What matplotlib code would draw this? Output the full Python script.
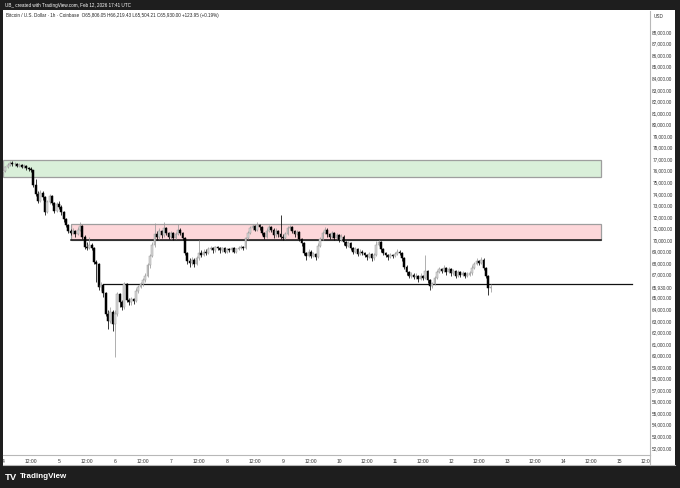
import matplotlib
matplotlib.use("Agg")
import matplotlib.pyplot as plt
from matplotlib.patches import Rectangle
from matplotlib.lines import Line2D
from matplotlib.transforms import Bbox, TransformedBbox

# ---------------- data (prices in thousands USD, hourly candles from Feb 4 00:00) ----------------
first_open = 75.90
closes = [
    75.95, 76.30, 76.50, 76.70, 76.55, 76.60, 76.45, 76.50, 76.35, 76.40,
    76.20, 76.15, 76.05, 74.80, 74.00, 73.40, 74.10, 73.70, 72.40, 73.30,
    73.80, 73.20, 72.50, 73.10, 72.90, 72.40, 71.80, 71.30, 70.80, 70.60,
    70.80, 70.50, 70.90, 71.20, 70.30, 69.40, 69.30, 69.60, 69.30, 68.10,
    67.90, 65.90, 66.10, 65.40, 63.60, 63.00, 63.80, 62.70, 63.60, 65.30,
    64.60, 64.20, 66.20, 64.80, 64.60, 64.90, 64.70, 65.60, 65.90, 66.20,
    66.50, 66.90, 67.80, 68.60, 69.60, 70.50, 70.30, 70.80, 70.40, 71.00,
    70.60, 70.30, 70.60, 70.20, 70.50, 70.90, 70.60, 70.20, 68.90, 68.20,
    68.00, 68.30, 67.90, 68.40, 68.90, 68.70, 69.00, 68.90, 69.20, 69.30,
    69.10, 69.40, 69.30, 69.10, 69.30, 69.00, 69.20, 69.10, 69.30, 69.00,
    69.20, 69.30, 69.40, 69.30, 70.20, 70.60, 71.00, 71.20, 70.90, 71.30,
    71.10, 70.60, 70.30, 70.80, 71.10, 70.90, 70.40, 70.80, 70.50, 70.30,
    70.20, 70.50, 71.00, 71.10, 70.80, 70.50, 70.70, 70.10, 69.70, 68.90,
    68.60, 69.00, 68.60, 68.80, 68.50, 69.50, 70.10, 70.60, 70.90, 70.50,
    70.30, 70.60, 70.20, 70.40, 70.00, 70.30, 69.80, 69.50, 69.70, 69.30,
    69.00, 69.20, 68.80, 69.00, 68.90, 68.70, 68.50, 68.80, 68.40, 68.70,
    69.60, 69.80, 69.20, 68.90, 68.70, 68.50, 68.70, 68.60, 68.80, 69.00,
    68.90, 68.40, 67.70, 67.20, 66.90, 67.00, 66.80, 66.90, 66.60, 66.90,
    66.70, 67.30, 66.50, 66.00, 66.20, 66.70, 67.20, 67.50, 67.30, 67.60,
    67.20, 67.50, 67.10, 67.30, 66.90, 67.20, 67.00, 67.10, 66.90, 67.00,
    67.10, 67.60, 67.90, 68.20, 68.00, 68.30, 67.60, 66.90, 65.806, 65.93,
]
highs = [
    76.15, 76.45, 76.70, 76.85, 76.80, 76.75, 76.70, 76.65, 76.60, 76.55,
    76.50, 76.35, 76.30, 76.10, 75.30, 74.20, 74.30, 74.20, 73.80, 73.50,
    74.00, 73.90, 73.30, 73.30, 73.40, 73.00, 72.50, 71.90, 71.40, 70.95,
    71.00, 70.90, 71.10, 71.55, 71.30, 70.40, 69.80, 70.30, 69.70, 69.40,
    68.30, 68.00, 66.40, 66.20, 65.50, 63.90, 64.20, 63.90, 63.90, 65.50,
    65.40, 64.80, 66.40, 66.30, 65.00, 65.10, 65.00, 65.80, 66.10, 66.40,
    66.70, 67.10, 68.00, 68.80, 69.80, 71.50, 70.80, 71.00, 70.90, 71.60,
    71.10, 70.70, 70.80, 70.70, 70.70, 71.40, 71.00, 70.70, 70.30, 69.00,
    68.40, 68.50, 68.40, 68.60, 70.00, 69.10, 69.20, 69.20, 69.40, 69.50,
    69.40, 69.50, 69.50, 69.40, 69.40, 69.40, 69.30, 69.30, 69.40, 69.40,
    69.30, 69.45, 69.55, 69.50, 70.30, 70.80, 71.20, 71.40, 71.30, 71.55,
    71.40, 71.20, 70.70, 71.00, 71.30, 71.20, 71.00, 71.00, 70.90, 72.20,
    70.50, 70.70, 71.20, 71.30, 71.20, 70.90, 70.90, 70.80, 70.20, 69.80,
    69.00, 69.20, 69.10, 69.00, 68.90, 69.70, 70.30, 70.80, 71.10, 71.00,
    70.60, 70.80, 70.70, 70.60, 70.50, 70.50, 70.40, 69.90, 69.90, 69.80,
    69.40, 69.40, 69.30, 69.20, 69.10, 69.00, 68.80, 69.00, 68.90, 68.90,
    69.90, 70.00, 69.90, 69.30, 69.00, 68.80, 68.90, 68.80, 69.00, 69.20,
    69.10, 69.00, 68.50, 67.80, 67.30, 67.20, 67.10, 67.10, 67.00, 67.10,
    67.00, 68.70, 67.40, 66.60, 66.40, 66.90, 67.40, 67.70, 67.60, 67.80,
    67.70, 67.70, 67.60, 67.50, 67.40, 67.40, 67.30, 67.30, 67.20, 67.20,
    67.30, 67.80, 68.10, 68.40, 68.30, 68.50, 68.40, 67.70, 67.00, 66.219,
]
lows = [
    75.70, 75.85, 76.20, 76.40, 76.40, 76.40, 76.30, 76.30, 76.20, 76.20,
    76.05, 75.95, 75.90, 74.60, 73.80, 73.20, 73.30, 73.50, 72.20, 72.30,
    73.10, 73.00, 72.30, 72.40, 72.70, 72.20, 71.60, 71.10, 70.60, 70.40,
    70.50, 70.30, 70.40, 70.80, 70.10, 69.20, 69.10, 69.20, 69.10, 67.90,
    66.40, 65.70, 65.60, 65.10, 63.40, 62.30, 62.80, 62.10, 59.90, 63.40,
    64.20, 63.90, 64.00, 64.60, 64.40, 64.40, 64.50, 64.60, 65.40, 65.80,
    66.00, 66.40, 66.80, 67.60, 68.50, 69.40, 70.00, 70.10, 70.20, 70.30,
    70.40, 70.10, 70.10, 70.00, 70.10, 70.40, 70.40, 70.00, 68.70, 67.90,
    67.70, 67.80, 67.70, 67.80, 68.30, 68.50, 68.60, 68.70, 68.80, 69.10,
    68.90, 69.00, 69.10, 68.90, 69.00, 68.90, 68.90, 68.95, 69.00, 68.90,
    68.90, 69.10, 69.20, 69.15, 69.20, 70.10, 70.50, 70.90, 70.80, 70.80,
    70.90, 70.40, 70.10, 70.20, 70.70, 70.70, 70.20, 70.30, 70.30, 70.10,
    70.00, 70.10, 70.40, 70.90, 70.60, 70.30, 70.40, 69.90, 69.50, 68.70,
    68.30, 68.50, 68.40, 68.50, 68.30, 68.40, 69.40, 70.00, 70.50, 70.30,
    70.10, 70.20, 70.00, 70.10, 69.80, 69.90, 69.60, 69.30, 69.40, 69.10,
    68.80, 68.90, 68.60, 68.70, 68.70, 68.50, 68.30, 68.40, 68.20, 68.30,
    68.60, 69.50, 69.00, 68.70, 68.50, 68.30, 68.40, 68.40, 68.50, 68.70,
    68.70, 68.20, 67.50, 67.00, 66.70, 66.70, 66.60, 66.60, 66.40, 66.50,
    66.50, 66.60, 66.30, 65.70, 65.80, 66.10, 66.60, 67.10, 67.10, 67.20,
    67.00, 67.10, 66.90, 67.00, 66.70, 66.80, 66.80, 66.90, 66.70, 66.80,
    66.90, 67.00, 67.50, 67.80, 67.80, 67.90, 67.40, 66.70, 65.20, 65.504,
]

green_zone = (75.48, 76.93)     # low, high (k USD)
red_zone = (70.00, 71.38)
support_level = 66.15
last_price = 65.93

day_labels = ["4", "5", "6", "7", "8", "9", "10", "11", "12", "13", "14", "15"]
price_ticks = [52, 53, 54, 55, 56, 57, 58, 59, 60, 61, 62, 63, 64, 65, 67, 68, 69,
               70, 71, 72, 73, 74, 75, 76, 77, 78, 79, 80, 81, 82, 83, 84, 85, 86, 87, 88]

header = "UB_ created with TradingView.com, Feb 12, 2026 17:41 UTC"
legend_text = ("Bitcoin / U.S. Dollar \u00b7 1h \u00b7 Coinbase  O65,806.05 H66,219.43 "
               "L65,504.21 C65,930.00 +123.95 (+0.19%)")

FONT = ["Liberation Sans", "DejaVu Sans"]
plt.rcParams["font.family"] = FONT

# ---------------- figure ----------------
W, H = 680, 488
fig = plt.figure(figsize=(W / 100, H / 100), dpi=100)
fig.patch.set_facecolor("#1e1e1e")

def fx(px):
    return px / W

def fy(py):
    return 1 - py / H

# white chart panel (behind the axes)
fig.patches.append(Rectangle((fx(3), fy(465)), fx(672), (465 - 10) / H,
                             transform=fig.transFigure, facecolor="white",
                             edgecolor="none", zorder=-5))

ax = fig.add_axes([fx(3), fy(455), fx(647), (455 - 11) / H])
ax.set_zorder(2)
ax.set_facecolor("white")
ax.set_xlim(0, 277.3)
ax.set_ylim(51.381, 89.83)

for s in ["top", "left"]:
    ax.spines[s].set_visible(False)
for s in ["right", "bottom"]:
    ax.spines[s].set_color("#b8b8b8")
    ax.spines[s].set_linewidth(0.8)

# zones
gz = Rectangle((0, green_zone[0]), 256.3, green_zone[1] - green_zone[0],
               facecolor="#d9efd9", edgecolor="#9e9e9e", linewidth=0.9, zorder=1)
ax.add_patch(gz)
rz = Rectangle((29.1, red_zone[0]), 256.3 - 29.1, red_zone[1] - red_zone[0],
               facecolor="#fdd7da", edgecolor="#9e9e9e", linewidth=0.9, zorder=1)
ax.add_patch(rz)
ax.plot([29.1, 256.3], [red_zone[0], red_zone[0]], color="#111111", linewidth=1.1, zorder=2)
ax.plot([42.9, 269.6], [support_level, support_level], color="#111111", linewidth=0.9, zorder=2)

# candles
opens = [first_open] + closes[:-1]
body_w = 0.72
for i, (o, c, h, l) in enumerate(zip(opens, closes, highs, lows)):
    up = c >= o
    wick_col = "#9a9a9a" if up else "#000000"
    ax.vlines(i, l, h, color=wick_col, linewidth=0.55, zorder=3)
    bottom = min(o, c)
    height = max(abs(c - o), 0.04)
    ax.add_patch(Rectangle((i - body_w / 2, bottom), body_w, height,
                           facecolor="#d8d8d8" if up else "#000000",
                           edgecolor="#9a9a9a" if up else "#000000",
                           linewidth=0.35, zorder=4))

# y axis (right)
ax.yaxis.tick_right()
yt = sorted(price_ticks + [last_price])
ax.set_yticks(yt)
ax.set_yticklabels([f"{v * 1000:,.2f}" for v in yt])
ax.tick_params(axis="y", length=0, pad=1.6, labelsize=3.3, labelcolor="#333333")

# x axis
xt = list(range(0, 277, 12))
xl = []
for k, t in enumerate(xt):
    xl.append(day_labels[k // 2] if k % 2 == 0 else "12:00")
ax.set_xticks(xt)
ax.set_xticklabels(xl)
ax.tick_params(axis="x", length=0, pad=2.8, labelsize=3.6, labelcolor="#333333")
clip = TransformedBbox(Bbox([[fx(3), 0], [fx(650), 1]]), fig.transFigure)
for lab in ax.get_xticklabels():
    lab.set_clip_on(True)
    lab.set_clip_box(clip)

# frame lines
fig.add_artist(Line2D([fx(650), fx(650)], [fy(455), fy(465)], transform=fig.transFigure,
                      color="#b8b8b8", linewidth=0.8))
fig.add_artist(Line2D([fx(3), fx(675)], [fy(465), fy(465)], transform=fig.transFigure,
                      color="#b8b8b8", linewidth=0.8))

# texts
fig.text(fx(5), fy(5), header, color="white", fontsize=3.3, va="center", ha="left")
fig.text(fx(6), fy(16), legend_text, color="#222222", fontsize=3.3, va="center", ha="left")
fig.text(fx(654), fy(16), "USD", color="#333333", fontsize=3.4, va="center", ha="left")
fig.text(fx(5), fy(477), "TV", color="white", fontsize=6.8, fontweight="bold",
         va="center", ha="left")
fig.text(fx(20), fy(477), "TradingView", color="white", fontsize=5.8, fontweight="bold",
         va="center", ha="left")

fig.savefig("out.png", dpi=100, facecolor=fig.get_facecolor())
